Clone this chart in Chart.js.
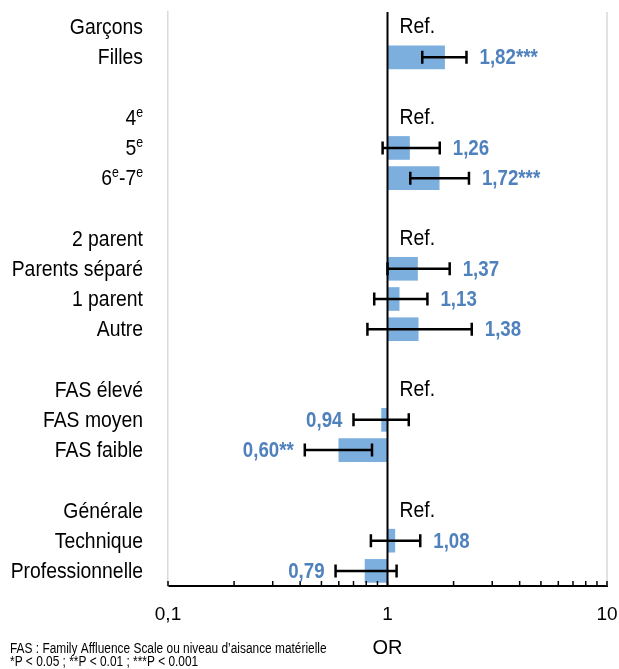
<!DOCTYPE html>
<html lang="fr">
<head>
<meta charset="utf-8">
<script src="https://cdn.jsdelivr.net/npm/chart.js@4"></script>
<style>
	html, body { margin: 0; padding: 0; background: #fff; }
	#wrap { width: 619px; height: 669px; position: relative; }
</style>
</head>
<body>
<div id="wrap"><canvas id="chartCanvas"></canvas></div>
<script>
const categories = ['Garçons', 'Filles', '', '4ᵉ', '5ᵉ', '6ᵉ-7ᵉ', '', '2 parent', 'Parents séparé', '1 parent', 'Autre', '', 'FAS élevé', 'FAS moyen', 'FAS faible', '', 'Générale', 'Technique', 'Professionnelle'];
const refRows = [true, false, false, true, false, false, false, true, false, false, false, false, true, false, false, false, true, false, false];
const orValues = [null, 1.82, null, null, 1.26, 1.72, null, null, 1.37, 1.13, 1.38, null, null, 0.94, 0.60, null, null, 1.08, 0.79];
const ciLow = [null, 1.44, null, null, 0.95, 1.27, null, null, 1.00, 0.87, 0.81, null, null, 0.70, 0.42, null, null, 0.84, 0.58];
const ciHigh = [null, 2.29, null, null, 1.73, 2.35, null, null, 1.92, 1.52, 2.42, null, null, 1.25, 0.85, null, null, 1.41, 1.10];
const sigMarks = ['', '***', '', '', '', '***', '', '', '', '', '', '', '', '', '**', '', '', '', ''];
const xTickValues = [0.1, 0.2, 0.3, 0.4, 0.5, 0.6, 0.7, 0.8, 0.9, 1, 2, 3, 4, 5, 6, 7, 8, 9, 10];
const xTickLabels = { 0.1: '0,1', 1: '1', 10: '10' };
const footnotes = ['FAS : Family Affluence Scale ou niveau d\u2019aisance matérielle', '*P < 0.05 ; **P < 0.01 ; ***P < 0.001'];

const FONT = "'Liberation Sans', Arial, sans-serif";
const BAR_COLOR = 'rgb(125, 175, 222)';
const LABEL_BLUE = '#4f81bd';

// no narrow font installed, so text is squeezed horizontally
function fillNarrow(ctx, text, x, y, align, sq) {
	ctx.save();
	ctx.translate(x, y);
	ctx.scale(sq, 1);
	ctx.textAlign = align;
	ctx.textBaseline = 'middle';
	ctx.fillText(text, 0, 0);
	ctx.restore();
}

function drawCategoryLabel(ctx, text, xRight, y) {
	const sq = 0.88;
	// split into normal runs and superscript "e"
	const parts = [];
	for (const ch of text) {
		const sup = ch === 'ᵉ';
		const last = parts[parts.length - 1];
		if (last && last.sup === sup) last.t += sup ? 'e' : ch;
		else parts.push({ t: sup ? 'e' : ch, sup });
	}
	let total = 0;
	parts.forEach(p => {
		ctx.font = (p.sup ? '14px ' : '22px ') + FONT;
		p.w = ctx.measureText(p.t).width * sq;
		total += p.w;
	});
	let x = xRight - total;
	parts.forEach(p => {
		ctx.font = (p.sup ? '14px ' : '22px ') + FONT;
		fillNarrow(ctx, p.t, x, p.sup ? y - 6 : y, 'left', sq);
		x += p.w;
	});
}

const forestPlugin = {
	id: 'forest',
	afterDatasetsDraw(chart) {
		const { ctx, chartArea, scales: { x, y } } = chart;
		ctx.save();

		// right frame line
		ctx.strokeStyle = '#d9d9d9';
		ctx.lineWidth = 1.5;
		ctx.beginPath();
		ctx.moveTo(chartArea.right, chartArea.top);
		ctx.lineTo(chartArea.right, chartArea.bottom);
		ctx.stroke();

		// line at OR = 1
		const x1 = x.getPixelForValue(1);
		ctx.strokeStyle = '#000';
		ctx.lineWidth = 2;
		ctx.beginPath();
		ctx.moveTo(x1, chartArea.top);
		ctx.lineTo(x1, chartArea.bottom);
		ctx.stroke();

		// tick marks pointing inside
		ctx.lineWidth = 1.5;
		x.ticks.forEach(t => {
			const px = x.getPixelForValue(t.value);
			ctx.beginPath();
			ctx.moveTo(px, chartArea.bottom);
			ctx.lineTo(px, chartArea.bottom - 5);
			ctx.stroke();
		});

		// error bars
		ctx.lineWidth = 2.5;
		categories.forEach((c, i) => {
			if (ciLow[i] == null) return;
			const py = y.getPixelForValue(i);
			const a = x.getPixelForValue(ciLow[i]);
			const b = x.getPixelForValue(ciHigh[i]);
			ctx.beginPath();
			ctx.moveTo(a, py);
			ctx.lineTo(b, py);
			ctx.moveTo(a, py - 6.5);
			ctx.lineTo(a, py + 6.5);
			ctx.moveTo(b, py - 6.5);
			ctx.lineTo(b, py + 6.5);
			ctx.stroke();
		});

		// value labels and Ref.
		categories.forEach((c, i) => {
			const py = y.getPixelForValue(i);
			if (refRows[i]) {
				ctx.font = '22px ' + FONT;
				ctx.fillStyle = '#000';
				fillNarrow(ctx, 'Ref.', x1 + 12, py, 'left', 0.88);
			}
			if (orValues[i] == null) return;
			const txt = orValues[i].toFixed(2).replace('.', ',') + sigMarks[i];
			ctx.font = 'bold 22px ' + FONT;
			ctx.fillStyle = LABEL_BLUE;
			if (orValues[i] >= 1) {
				fillNarrow(ctx, txt, x.getPixelForValue(ciHigh[i]) + 13, py + 1, 'left', 0.85);
			} else {
				fillNarrow(ctx, txt, x.getPixelForValue(ciLow[i]) - 11, py + 1, 'right', 0.85);
			}
		});

		// category labels
		ctx.fillStyle = '#000';
		categories.forEach((c, i) => {
			if (c) drawCategoryLabel(ctx, c, chartArea.left - 25, y.getPixelForValue(i) + 1);
		});

		// footnotes
		ctx.font = '14px ' + FONT;
		footnotes.forEach((f, i) => fillNarrow(ctx, f, 10, 649 + i * 13, 'left', 0.85));

		ctx.restore();
	}
};

const canvas = document.getElementById('chartCanvas');
new Chart(canvas.getContext('2d'), {
	type: 'bar',
	data: {
		labels: categories,
		datasets: [{
			data: orValues.map(v => v == null ? null : [1, v]),
			backgroundColor: BAR_COLOR,
			borderWidth: 0,
			barThickness: 23
		}]
	},
	options: {
		indexAxis: 'y',
		responsive: true,
		maintainAspectRatio: false,
		animation: false,
		layout: { padding: { top: 12, right: 12, bottom: 0, left: 0 } },
		plugins: {
			legend: { display: false },
			tooltip: { enabled: false }
		},
		scales: {
			x: {
				type: 'logarithmic',
				min: 0.1,
				max: 10,
				afterBuildTicks: s => { s.ticks = xTickValues.map(v => ({ value: v })); },
				afterFit: s => {
					s.height = 83;
					s.paddingLeft = 0;
					s.paddingRight = 0;
				},
				grid: { display: false },
				border: { display: true, color: '#000', width: 2 },
				ticks: {
					autoSkip: false,
					maxRotation: 0,
					padding: 9,
					color: '#000',
					font: { family: FONT, size: 19 },
					callback: v => xTickLabels[v] || ''
				},
				title: {
					display: true,
					text: 'OR',
					color: '#000',
					font: { family: FONT, size: 20 },
					padding: { top: 0, bottom: 9 }
				}
			},
			y: {
				type: 'category',
				afterFit: s => { s.width = 168; },
				grid: { display: false },
				border: { display: true, color: '#d9d9d9', width: 1.5 },
				ticks: { display: false }
			}
		}
	},
	plugins: [forestPlugin]
});
</script>
</body>
</html>
